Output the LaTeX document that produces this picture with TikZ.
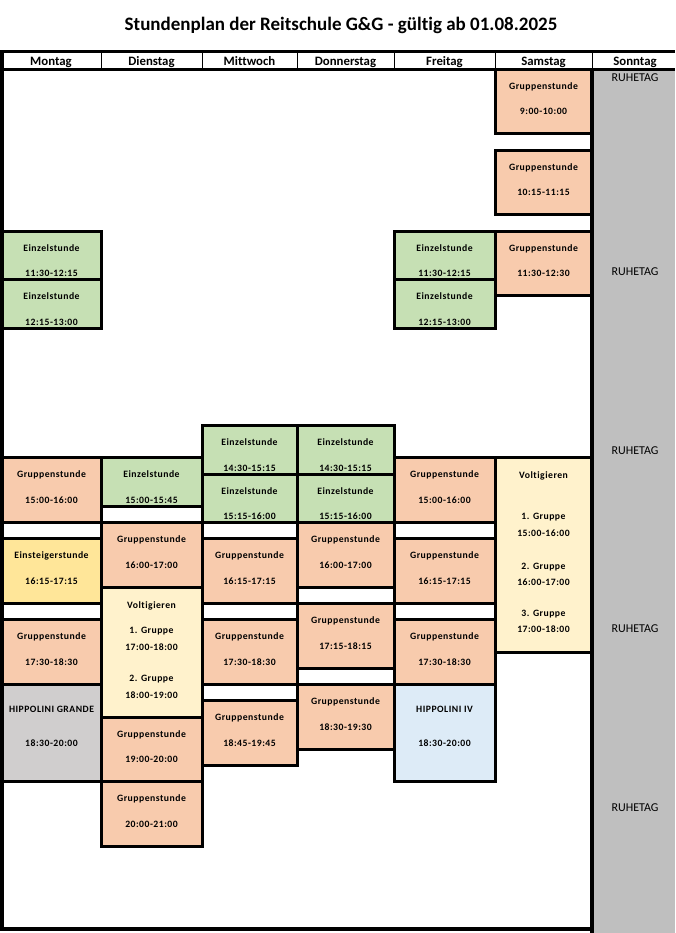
\documentclass[tikz,border=0pt]{standalone}
\usepackage{fontspec}
\setmainfont[Ligatures=NoCommon]{Carlito}
\newfontfamily\cellfont[LetterSpace=5,Ligatures=NoCommon]{Carlito}
\definecolor{gruppe}{HTML}{F8CBAD}
\definecolor{einzel}{HTML}{C6E0B4}
\definecolor{einsteiger}{HTML}{FFE699}
\definecolor{volti}{HTML}{FFF2CC}
\definecolor{grande}{HTML}{D0CECE}
\definecolor{hippo}{HTML}{DDEBF7}
\definecolor{sonntag}{HTML}{BFBFBF}

\begin{document}
\begin{tikzpicture}[x=1pt,y=-64.8pt,
  slot/.style={draw=black,line width=3pt},
  lbl/.style={font=\cellfont\fontsize{9.7}{11}\bfseries,inner sep=0pt,text height=6.3pt,text depth=0pt},
  head/.style={font=\fontsize{12.8}{14}\bfseries,inner sep=0pt,text height=8.2pt,text depth=0pt},
  rest/.style={font=\fontsize{12}{14}\selectfont,inner sep=0pt,text height=7.8pt,text depth=0pt}]

\useasboundingbox (0,7.9352) rectangle (675,22.3333);

\node[font=\fontsize{19}{22}\bfseries] (titel) at (341,8.33) {Stundenplan der Reitschule G\&G - gültig ab 01.08.2025};

% sonntag
\fill[sonntag] (592,9) rectangle (675,22.3333);
\foreach \i/\t in {1/9.14,2/12.133,3/14.895,4/17.642,5/20.404}
{
\node[rest] (ru\i) at (635,\t) {RUHETAG};
}

% kopfzeile
\foreach \i/\x/\d in {1/51/Montag,2/151.5/Dienstag,3/249.5/Mittwoch,4/345.5/Donnerstag,5/444.5/Freitag,6/543.5/Samstag,7/635/Sonntag}
{
\node[head] (h\i) at (\x,8.877) {\d};
}
\foreach \x in {101,202,297,394,495,592}
{
\draw[line width=0.8pt] (\x,8.733) -- (\x,9);
}

% stunden
\foreach \n/\xa/\xb/\ta/\tb/\c/\s/\z in {
mo1/2/101/11.5/12.25/einzel/Einzelstunde/11:30-12:15,
mo2/2/101/12.25/13/einzel/Einzelstunde/12:15-13:00,
mo3/2/101/15/16/gruppe/Gruppenstunde/15:00-16:00,
mo4/2/101/16.25/17.25/einsteiger/Einsteigerstunde/16:15-17:15,
mo5/2/101/17.5/18.5/gruppe/Gruppenstunde/17:30-18:30,
di1/101/202/15/15.75/einzel/Einzelstunde/15:00-15:45,
di2/101/202/16/17/gruppe/Gruppenstunde/16:00-17:00,
di4/101/202/19/20/gruppe/Gruppenstunde/19:00-20:00,
di5/101/202/20/21/gruppe/Gruppenstunde/20:00-21:00,
mi1/202/297/14.5/15.25/einzel/Einzelstunde/14:30-15:15,
mi2/202/297/15.25/16/einzel/Einzelstunde/15:15-16:00,
mi3/202/297/16.25/17.25/gruppe/Gruppenstunde/16:15-17:15,
mi4/202/297/17.5/18.5/gruppe/Gruppenstunde/17:30-18:30,
mi5/202/297/18.75/19.75/gruppe/Gruppenstunde/18:45-19:45,
do1/297/394/14.5/15.25/einzel/Einzelstunde/14:30-15:15,
do2/297/394/15.25/16/einzel/Einzelstunde/15:15-16:00,
do3/297/394/16/17/gruppe/Gruppenstunde/16:00-17:00,
do4/297/394/17.25/18.25/gruppe/Gruppenstunde/17:15-18:15,
do5/297/394/18.5/19.5/gruppe/Gruppenstunde/18:30-19:30,
fr1/394/495/11.5/12.25/einzel/Einzelstunde/11:30-12:15,
fr2/394/495/12.25/13/einzel/Einzelstunde/12:15-13:00,
fr3/394/495/15/16/gruppe/Gruppenstunde/15:00-16:00,
fr4/394/495/16.25/17.25/gruppe/Gruppenstunde/16:15-17:15,
fr5/394/495/17.5/18.5/gruppe/Gruppenstunde/17:30-18:30,
sa1/495/592/9/10/gruppe/Gruppenstunde/9:00-10:00,
sa2/495/592/10.25/11.25/gruppe/Gruppenstunde/10:15-11:15,
sa3/495/592/11.5/12.5/gruppe/Gruppenstunde/11:30-12:30}
{
\draw[slot,fill=\c] (\xa,\ta) rectangle (\xb,\tb);
\node[lbl] (\n-a) at ({(\xa+\xb)/2},{\ta+0.26}) {\s};
\node[lbl] (\n-b) at ({(\xa+\xb)/2},{\ta+0.66}) {\z};
}

% hippolini
\draw[slot,fill=grande] (2,18.5) rectangle (101,20);
\node[lbl] (mo6-a) at (51.5,18.886) {HIPPOLINI GRANDE};
\node[lbl] (mo6-b) at (51.5,19.41) {18:30-20:00};
\draw[slot,fill=hippo] (394,18.5) rectangle (495,20);
\node[lbl] (fr6-a) at (444.5,18.886) {HIPPOLINI IV};
\node[lbl] (fr6-b) at (444.5,19.41) {18:30-20:00};

% voltigieren
\draw[slot,fill=volti] (101,17) rectangle (202,19);
\node[lbl] (di3-a) at (151.5,17.27) {Voltigieren};
\node[lbl] (di3-b) at (151.5,17.66) {1. Gruppe};
\node[lbl] (di3-c) at (151.5,17.92) {17:00-18:00};
\node[lbl] (di3-d) at (151.5,18.41) {2. Gruppe};
\node[lbl] (di3-e) at (151.5,18.66) {18:00-19:00};
\draw[slot,fill=volti] (495,15) rectangle (592,18);
\node[lbl] (sa4-a) at (543.5,15.27) {Voltigieren};
\node[lbl] (sa4-b) at (543.5,15.91) {1. Gruppe};
\node[lbl] (sa4-c) at (543.5,16.16) {15:00-16:00};
\node[lbl] (sa4-d) at (543.5,16.67) {2. Gruppe};
\node[lbl] (sa4-e) at (543.5,16.92) {16:00-17:00};
\node[lbl] (sa4-f) at (543.5,17.40) {3. Gruppe};
\node[lbl] (sa4-g) at (543.5,17.64) {17:00-18:00};

% rahmen
\draw[line width=3.3pt] (0,8.733) -- (675,8.733);
\draw[line width=3pt] (0,9) -- (675,9);
\draw[line width=4pt] (2,8.71) -- (2,22.30);
\draw[line width=4pt] (0,22.272) -- (592,22.272);
\draw[line width=3.5pt] (592,9) -- (592,22.3333);
\end{tikzpicture}
\end{document}
